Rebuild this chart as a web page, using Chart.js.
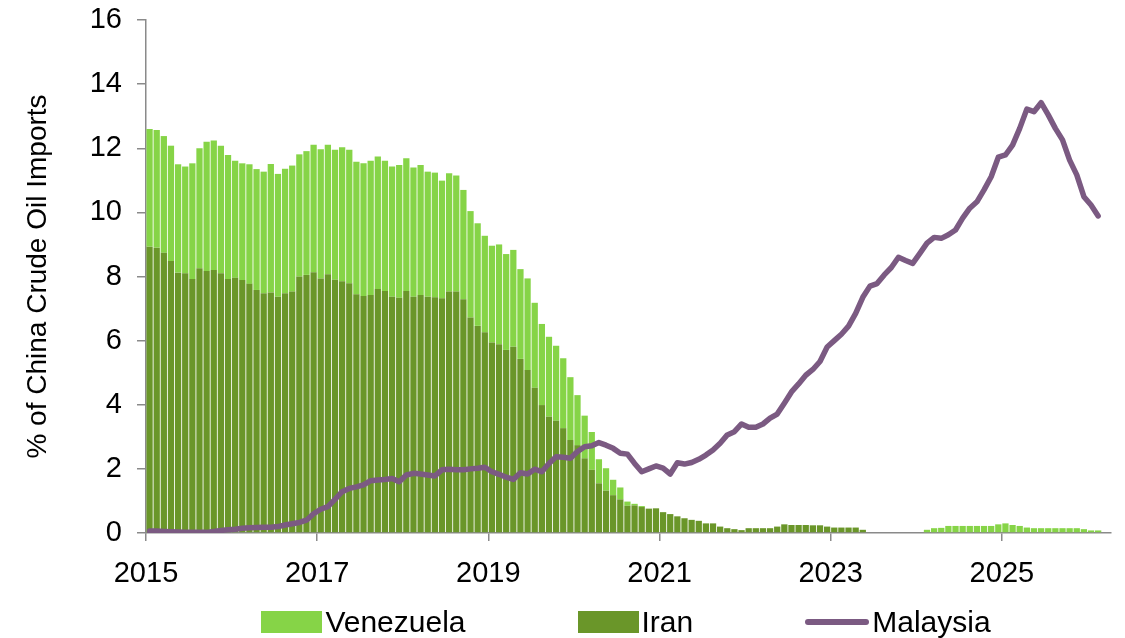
<!DOCTYPE html>
<html>
<head>
<meta charset="utf-8">
<title>Venezuela, Iran and Malaysia share of China crude imports</title>
<script src="https://cdn.jsdelivr.net/npm/chart.js@4.4.1/dist/chart.umd.min.js"></script>
<style>
  html, body { margin: 0; padding: 0; background: #fff; }
  #wrap { position: relative; width: 1125px; height: 638px; }
  #legend {
    position: absolute; left: 146px; width: 960px; top: 605px;
    display: flex; justify-content: center; gap: 112px;
    font: 30px "Liberation Sans", Arial, sans-serif; color: #000; line-height: 34px;
  }
  .item { display: flex; align-items: center; }
  .swatch { width: 61px; height: 22px; margin-right: 3px; }
  .swatch.line { width: 64px; height: 6px; border-radius: 3px; }
</style>
</head>
<body>
<div id="wrap">
  <canvas id="shareChart" width="1125" height="638"></canvas>
  <div id="legend"></div>
</div>
<script>
// monthly share of China's crude oil imports (%), Jan 2015 onwards
var startYear = 2015;
var yearTicks = [2015, 2017, 2019, 2021, 2023, 2025];

var iran = [
  8.93, 8.90, 8.74, 8.48, 8.12, 8.10, 7.92, 8.26, 8.17, 8.20,
  8.10, 7.92, 7.96, 7.89, 7.77, 7.58, 7.48, 7.50, 7.37, 7.48,
  7.53, 8.00, 8.05, 8.13, 7.94, 8.07, 7.90, 7.85, 7.79, 7.45,
  7.39, 7.42, 7.61, 7.55, 7.37, 7.34, 7.55, 7.37, 7.42, 7.37,
  7.35, 7.32, 7.53, 7.53, 7.29, 6.72, 6.46, 6.26, 5.94, 5.89,
  5.71, 5.81, 5.43, 5.08, 4.53, 3.99, 3.63, 3.50, 3.27, 2.90,
  2.74, 2.33, 1.97, 1.55, 1.32, 1.18, 1.05, 0.85, 0.86, 0.81,
  0.76, 0.77, 0.65, 0.59, 0.52, 0.46, 0.41, 0.38, 0.30, 0.30,
  0.20, 0.15, 0.12, 0.09, 0.15, 0.15, 0.15, 0.15, 0.20, 0.27,
  0.25, 0.25, 0.25, 0.24, 0.24, 0.20, 0.17, 0.17, 0.17, 0.17,
  0.10, null, null, null, null, null, null, null, null, null,
  null, null, null, null, null, null, null, null, null, null,
  null, null, null, null, null, null, null, null, null, null,
  null, null, null, null
];

var venezuela = [
  3.67, 3.67, 3.64, 3.60, 3.38, 3.33, 3.61, 3.74, 4.03, 4.04,
  3.98, 3.87, 3.65, 3.64, 3.73, 3.77, 3.79, 4.01, 3.83, 3.88,
  3.93, 3.81, 3.86, 3.98, 4.03, 4.04, 4.05, 4.18, 4.16, 4.13,
  4.14, 4.19, 4.13, 4.06, 4.06, 4.14, 4.14, 4.03, 4.06, 3.90,
  3.89, 3.67, 3.69, 3.62, 3.41, 3.32, 3.20, 3.01, 3.02, 3.11,
  2.99, 3.02, 2.80, 2.86, 2.65, 2.53, 2.49, 2.34, 2.18, 1.96,
  1.56, 1.33, 1.18, 0.75, 0.70, 0.48, 0.37, 0.13, 0.05, 0.03,
  null, null, null, null, null, null, null, null, null, null,
  null, null, null, null, null, null, null, null, null, null,
  null, null, null, null, null, null, null, null, null, null,
  null, null, null, null, null, null, null, null, null, 0.10,
  0.15, 0.16, 0.22, 0.22, 0.22, 0.22, 0.22, 0.22, 0.22, 0.27,
  0.30, 0.25, 0.22, 0.17, 0.15, 0.15, 0.15, 0.15, 0.15, 0.15,
  0.15, 0.12, 0.08, 0.08
];

var malaysia = [
  0.06, 0.06, 0.05, 0.04, 0.03, 0.02, 0.02, 0.02, 0.02, 0.05,
  0.08, 0.10, 0.12, 0.15, 0.16, 0.17, 0.18, 0.18, 0.20, 0.25,
  0.29, 0.33, 0.40, 0.60, 0.74, 0.82, 1.05, 1.29, 1.39, 1.44,
  1.50, 1.63, 1.65, 1.67, 1.70, 1.60, 1.81, 1.86, 1.84, 1.81,
  1.78, 1.97, 1.99, 1.97, 1.97, 2.00, 2.02, 2.05, 1.91, 1.83,
  1.74, 1.67, 1.88, 1.84, 1.99, 1.91, 2.17, 2.38, 2.36, 2.33,
  2.54, 2.69, 2.72, 2.82, 2.74, 2.64, 2.49, 2.46, 2.17, 1.91,
  2.00, 2.09, 2.02, 1.84, 2.19, 2.15, 2.20, 2.30, 2.43, 2.59,
  2.80, 3.06, 3.16, 3.40, 3.30, 3.30, 3.40, 3.58, 3.71, 4.05,
  4.40, 4.65, 4.92, 5.10, 5.35, 5.80, 6.00, 6.20, 6.45, 6.85,
  7.35, 7.70, 7.78, 8.05, 8.28, 8.60, 8.50, 8.41, 8.72, 9.04,
  9.22, 9.19, 9.30, 9.45, 9.82, 10.13, 10.33, 10.70, 11.11, 11.72,
  11.79, 12.10, 12.62, 13.22, 13.14, 13.42, 13.04, 12.62, 12.26, 11.63,
  11.17, 10.49, 10.23, 9.89
];

var monthNames = ['Jan', 'Feb', 'Mar', 'Apr', 'May', 'Jun', 'Jul', 'Aug', 'Sep', 'Oct', 'Nov', 'Dec'];
var months = malaysia.map(function(_, i) {
    return monthNames[i % 12] + ' ' + (startYear + Math.floor(i / 12));
});

var axisGray = '#8a8a8a';
var fontFamily = '"Liberation Sans", Arial, sans-serif';
var tickFont = { family: fontFamily, size: 29 };
var titleFont = { family: fontFamily, size: 28 };

// each month sits in the middle of its slot on the month-index axis
function toPoints(series) {
    return series.map(function(v, i) { return { x: i + 0.5, y: v }; });
}

var datasets = [
    {
        label: 'Iran', type: 'bar', data: toPoints(iran),
        backgroundColor: '#6a9629', borderWidth: 0,
        barPercentage: 0.88, categoryPercentage: 1
    },
    {
        label: 'Venezuela', type: 'bar', data: toPoints(venezuela),
        backgroundColor: '#86d447', borderWidth: 0,
        barPercentage: 0.88, categoryPercentage: 1
    },
    {
        label: 'Malaysia', type: 'line', data: toPoints(malaysia),
        borderColor: '#7b5a82', backgroundColor: '#7b5a82', borderWidth: 5.5,
        pointRadius: 0, tension: 0, borderJoinStyle: 'round', borderCapStyle: 'round',
        stack: 'line', order: -1
    }
];

var chart = new Chart(document.getElementById('shareChart'), {
    type: 'bar',
    data: { labels: months, datasets: datasets },
    options: {
        responsive: false,
        animation: false,
        devicePixelRatio: 1,
        layout: { padding: { top: 20, right: 14, bottom: 45, left: 0 } },
        plugins: { legend: { display: false }, tooltip: { enabled: false } },
        scales: {
            x: {
                type: 'linear', stacked: true, min: 0, max: 135.3, offset: false,
                afterBuildTicks: function(scale) {
                    scale.ticks = yearTicks.map(function(y) { return { value: (y - startYear) * 12 }; });
                },
                ticks: {
                    font: tickFont, color: '#000', padding: 16, maxRotation: 0, autoSkip: false,
                    callback: function(v) { return String(startYear + v / 12); }
                },
                grid: { offset: false, drawOnChartArea: false, tickLength: 8, color: axisGray, lineWidth: 1.5 },
                border: { color: axisGray, width: 1.5 },
                afterFit: function(scale) {
                    scale.height = 60;
                    scale.paddingLeft = 0;
                    scale.paddingRight = 0;
                }
            },
            y: {
                stacked: true, min: 0, max: 16,
                ticks: { stepSize: 2, font: tickFont, color: '#000', padding: 15 },
                grid: { drawOnChartArea: false, tickLength: 9, color: axisGray, lineWidth: 1.5 },
                border: { color: axisGray, width: 1.5 },
                title: {
                    display: true, text: '% of China Crude Oil Imports',
                    font: titleFont, color: '#000', padding: { top: 21, bottom: 0 }
                },
                afterFit: function(scale) {
                    scale.width = 146;
                    scale.paddingTop = 0;
                    scale.paddingBottom = 0;
                }
            }
        }
    }
});

// legend row: Venezuela, Iran, Malaysia
var legend = document.getElementById('legend');
['Venezuela', 'Iran', 'Malaysia'].forEach(function(name) {
    var ds = chart.data.datasets.find(function(d) { return d.label === name; });
    var item = document.createElement('div');
    item.className = 'item';
    var sw = document.createElement('span');
    sw.className = ds.type === 'line' ? 'swatch line' : 'swatch';
    sw.style.background = ds.type === 'line' ? ds.borderColor : ds.backgroundColor;
    var txt = document.createElement('span');
    txt.textContent = name;
    item.append(sw, txt);
    legend.appendChild(item);
});
</script>
</body>
</html>
